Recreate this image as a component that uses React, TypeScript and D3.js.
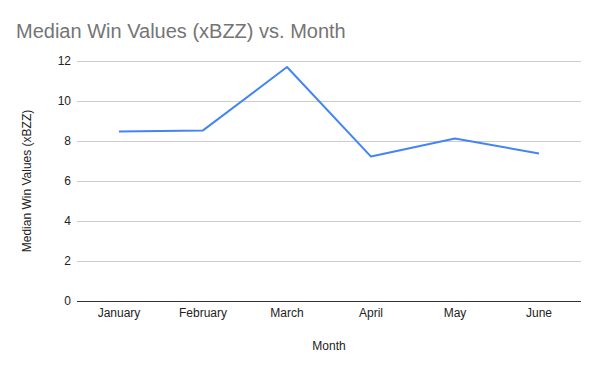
import { useEffect, useRef } from "react";
import * as d3 from "d3";

const months = ["January", "February", "March", "April", "May", "June"];
const medianWins = [8.47, 8.53, 11.7, 7.22, 8.12, 7.38];
const yTicks = [0, 2, 4, 6, 8, 10, 12];

export default function App() {
  const svgRef = useRef<SVGSVGElement | null>(null);

  useEffect(() => {
    const svgElement = svgRef.current;
    if (!svgElement) return;

    const width = 600;
    const height = 371;
    const margin = { top: 61, right: 19, bottom: 70, left: 77 };
    const chartWidth = width - margin.left - margin.right;
    const chartHeight = height - margin.top - margin.bottom;
    const font = "Arial, 'Liberation Sans', sans-serif";

    const x = d3.scaleBand().domain(months).range([0, chartWidth]);
    const y = d3.scaleLinear().domain([0, 12]).range([chartHeight, 0]);

    const svg = d3.select(svgElement);
    svg.selectAll("*").remove();

    svg.append("rect").attr("width", width).attr("height", height).attr("fill", "#fff");

    svg
      .append("text")
      .attr("x", 16)
      .attr("y", 38)
      .attr("font-family", font)
      .attr("font-size", 20)
      .attr("fill", "#757575")
      .text("Median Win Values (xBZZ) vs. Month");

    const chart = svg.append("g").attr("transform", `translate(${margin.left}, ${margin.top})`);

    // gridlines
    chart
      .selectAll("line.grid")
      .data(yTicks.filter((t) => t !== 0))
      .join("line")
      .attr("class", "grid")
      .attr("x1", 0)
      .attr("x2", chartWidth)
      .attr("y1", (d) => Math.round(y(d)) + 0.5)
      .attr("y2", (d) => Math.round(y(d)) + 0.5)
      .attr("stroke", "#cccccc")
      .attr("stroke-width", 1);

    chart
      .selectAll("text.ytick")
      .data(yTicks)
      .join("text")
      .attr("class", "ytick")
      .attr("x", -6)
      .attr("y", (d) => y(d))
      .attr("dy", "0.35em")
      .attr("text-anchor", "end")
      .attr("font-family", font)
      .attr("font-size", 12)
      .attr("fill", "#222")
      .text((d) => d.toString());

    // baseline
    chart
      .append("line")
      .attr("x1", 0)
      .attr("x2", chartWidth)
      .attr("y1", Math.round(y(0)) + 0.5)
      .attr("y2", Math.round(y(0)) + 0.5)
      .attr("stroke", "#333")
      .attr("stroke-width", 1);

    chart
      .selectAll("text.xtick")
      .data(months)
      .join("text")
      .attr("class", "xtick")
      .attr("x", (d) => (x(d) ?? 0) + x.bandwidth() / 2)
      .attr("y", chartHeight + 16)
      .attr("text-anchor", "middle")
      .attr("font-family", font)
      .attr("font-size", 12)
      .attr("fill", "#222")
      .text((d) => d);

    const line = d3
      .line<number>()
      .x((_, i) => (x(months[i]) ?? 0) + x.bandwidth() / 2)
      .y((d) => y(d));

    chart
      .append("path")
      .datum(medianWins)
      .attr("d", line)
      .attr("fill", "none")
      .attr("stroke", "#4285f4")
      .attr("stroke-width", 2)
      .attr("stroke-linejoin", "round");

    svg
      .append("text")
      .attr("x", margin.left + chartWidth / 2)
      .attr("y", 350)
      .attr("text-anchor", "middle")
      .attr("font-family", font)
      .attr("font-size", 12)
      .attr("fill", "#222")
      .text("Month");

    svg
      .append("text")
      .attr("transform", `translate(31, ${margin.top + chartHeight / 2}) rotate(-90)`)
      .attr("text-anchor", "middle")
      .attr("font-family", font)
      .attr("font-size", 12)
      .attr("fill", "#222")
      .text("Median Win Values (xBZZ)");
  }, []);

  return (
    <svg
      ref={svgRef}
      width={600}
      height={371}
      style={{ position: "absolute", left: 0, top: 0, display: "block" }}
    />
  );
}
